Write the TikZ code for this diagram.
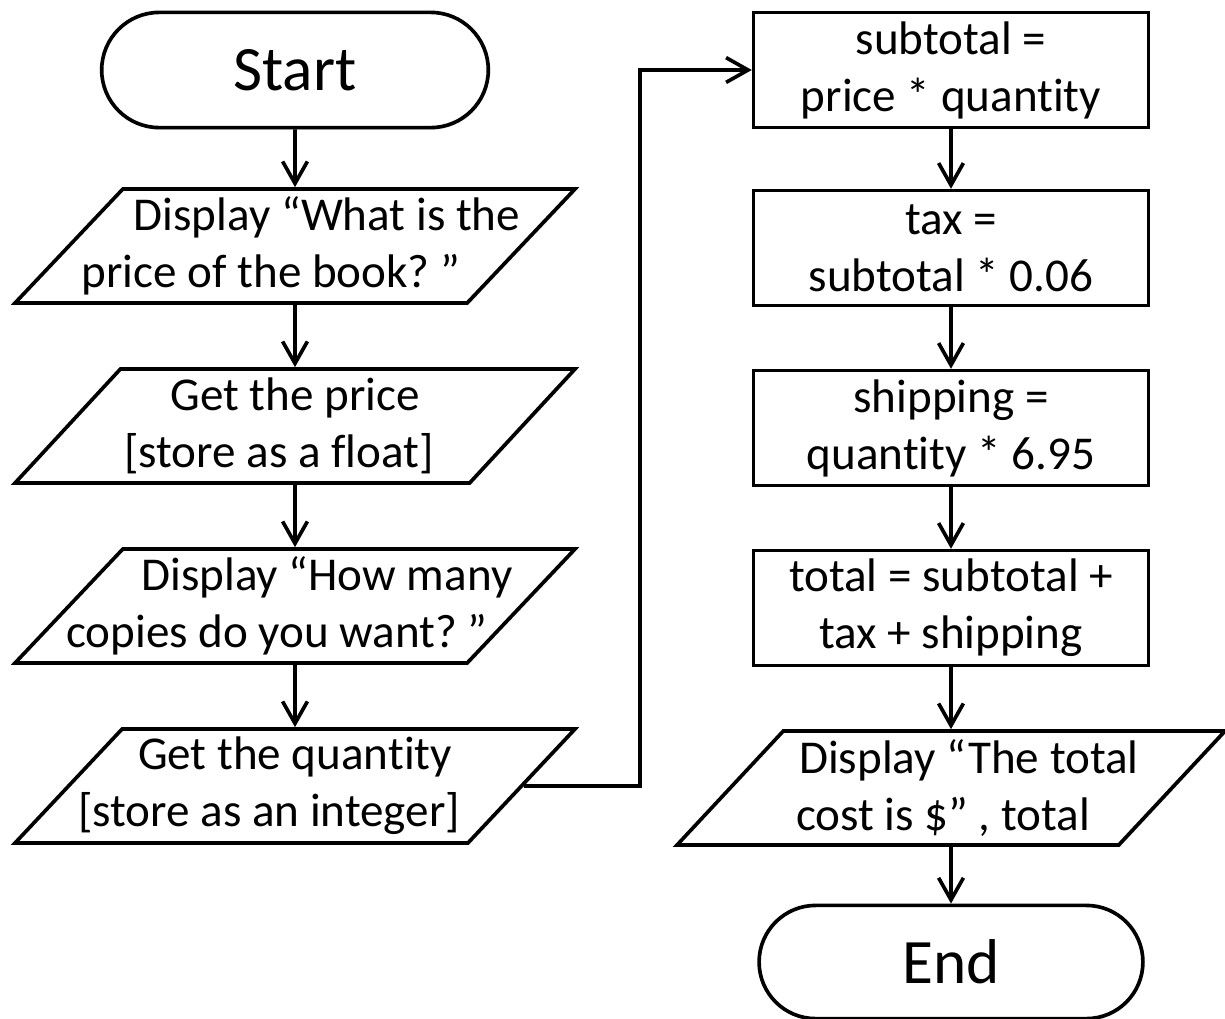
\documentclass[tikz,border=0pt]{standalone}
\usepackage{fontspec}
\setmainfont{Carlito}[Ligatures=CommonOff]
\usetikzlibrary{arrows.meta, shapes, shadows, positioning}

% one centred line, moved sideways by #1
\newcommand{\sline}[2][0pt]{\makebox[0pt]{\hspace*{#1}#2\hspace*{-#1}}}

\begin{document}
\begin{tikzpicture}[node distance=4.5cm,on grid,auto,line width=2.6pt,
	>={Straight Barb[length=0.55cm,width=0.62cm]},
	shade/.style={fill=white, drop shadow={shadow xshift=0.8pt, shadow yshift=-1.4pt, opacity=0.3}},
	term/.style={rounded rectangle, draw, shade, minimum width=9.9cm, minimum height=2.88cm, font=\fontsize{45}{52}\selectfont},
	io/.style={trapezium, trapezium left angle=45, trapezium right angle=135, trapezium stretches body, draw, shade, minimum width=14cm, minimum height=2.85cm, align=center, font=\fontsize{33.5}{40.5}\selectfont},
	proc/.style={rectangle, draw, shade, minimum width=9.87cm, minimum height=2.87cm, align=center, font=\fontsize{33.5}{40.5}\selectfont}]
	\useasboundingbox (0,0) rectangle (30.625,-25.45);
	
	% left column
	\node[term] (start) at (7.375,-1.75) {Start};
	\node[io, below = 4.4cm of start] (ask1) {\sline[0.8cm]{Display “What is the}\\ \sline[-0.6cm]{price of the book?~”}};
	\node[io, below = of ask1] (get1) {\sline{Get the price}\\ \sline[-0.4cm]{[store as a float]}};
	\node[io, below = of get1] (ask2) {\sline[0.8cm]{Display “How many}\\ \sline[-0.45cm]{copies do you want?~”}};
	\node[io, below = of ask2] (get2) {\sline{Get the quantity}\\ \sline[-0.65cm]{[store as an integer]}};
	
	% right column
	\node[proc, right = 16.4cm of start] (sub) {subtotal =\\ price * quantity};
	\node[proc, below = 4.45cm of sub] (tax) {tax =\\ subtotal * 0.06};
	\node[proc, below = of tax] (ship) {shipping =\\ quantity * 6.95};
	\node[proc, below = of ship] (tot) {total = subtotal +\\ tax + shipping};
	\node[io, below = of tot, minimum width=13.7cm] (out) {\sline[0.45cm]{Display “The total}\\ \sline[-0.2cm]{cost is \$” , total}};
	\node[term, below = 4.35cm of out, minimum width=9.83cm, minimum height=2.83cm] (stop) {End};
	
	\path[->] (start) edge (ask1)
	(ask1) edge (get1)
	(get1) edge (ask2)
	(ask2) edge (get2)
	(sub) edge (tax)
	(tax) edge (ship)
	(ship) edge (tot)
	(tot) edge (out)
	(out) edge (stop);
	\draw[->] (get2.east) -- ++(2.9cm,0) |- (sub.west);
\end{tikzpicture}
\end{document}
